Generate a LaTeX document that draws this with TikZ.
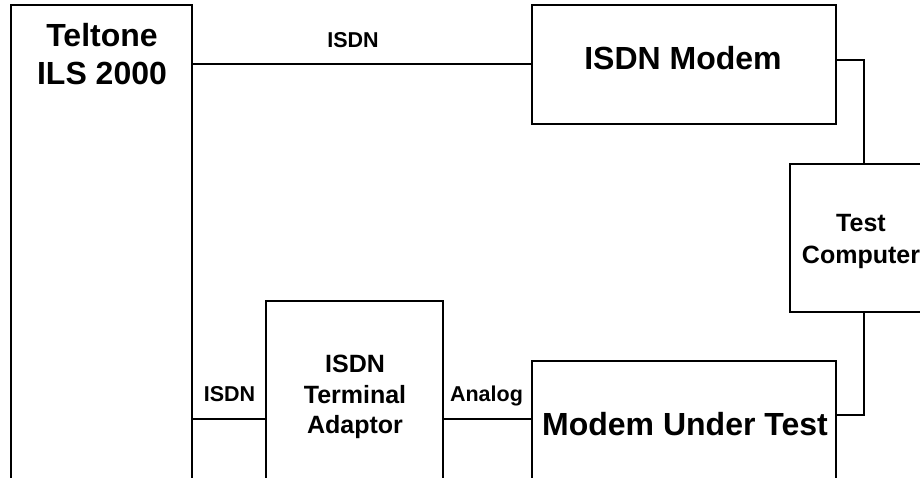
\documentclass[tikz,border=0pt]{standalone}
\usepackage{fontspec}
\setmainfont{Liberation Sans}
\begin{document}
\begin{tikzpicture}[x=1pt,y=-1pt,
  boxst/.style={draw=black,line width=2pt,rectangle,inner sep=0pt},
  wire/.style={draw=black,line width=2pt},
  bigtxt/.style={anchor=base,inner sep=0pt,font=\fontsize{32}{36}\selectfont\bfseries},
  midtxt/.style={anchor=base,inner sep=0pt,font=\fontsize{25}{30}\selectfont\bfseries},
  lbltxt/.style={anchor=base,inner sep=0pt,font=\fontsize{21.5}{26}\selectfont\bfseries}]
\useasboundingbox (0,0) rectangle (920,478);
\clip (0,0) rectangle (920,478);
% boxes
\node[boxst,minimum width=181pt,minimum height=500pt] (tel) at (101.5,255) {};
\node[boxst,minimum width=304pt,minimum height=119pt] (mod) at (684,64.5) {};
\node[boxst,minimum width=148pt,minimum height=148pt] (comp) at (864,238) {};
\node[boxst,minimum width=177pt,minimum height=199pt] (ada) at (354.5,400.5) {};
\node[boxst,minimum width=304pt,minimum height=139pt] (mut) at (684,430.5) {};
% box texts
\node[bigtxt] (telA) at (102,47) {Teltone};
\node[bigtxt] (telB) at (102,85) {ILS 2000};
\node[bigtxt] (modT) at (683,70) {ISDN Modem};
\node[bigtxt] (mutT) at (685,435) {Modem Under Test};
\node[midtxt] (adaA) at (355,372) {ISDN};
\node[midtxt] (adaB) at (355,403) {Terminal};
\node[midtxt] (adaC) at (355,433) {Adaptor};
\node[midtxt] (compA) at (861,231.5) {Test};
\node[midtxt] (compB) at (861,263.5) {Computer};
% connectors
\draw[wire] (mod.west) -- (mod.west -| tel.east);
\coordinate (modout) at ([yshift=4.5pt]mod.east);
\draw[wire] (modout) -| (comp.north);
\coordinate (mutin) at ([yshift=-55pt]mut.north east);
\draw[wire] (comp.south) |- (mutin);
\coordinate (adain) at ([yshift=-119pt]ada.north west);
\coordinate (adaout) at ([yshift=-119pt]ada.north east);
\draw[wire] (adain) -- (adain -| tel.east);
\draw[wire] (adaout) -- (adaout -| mut.west);
% labels
\node[lbltxt] (lblTop) at (353,48) {ISDN};
\node[lbltxt] (lblLow) at (229.5,401.5) {ISDN};
\node[lbltxt] (lblAn) at (486.5,401.5) {Analog};
\end{tikzpicture}
\end{document}
